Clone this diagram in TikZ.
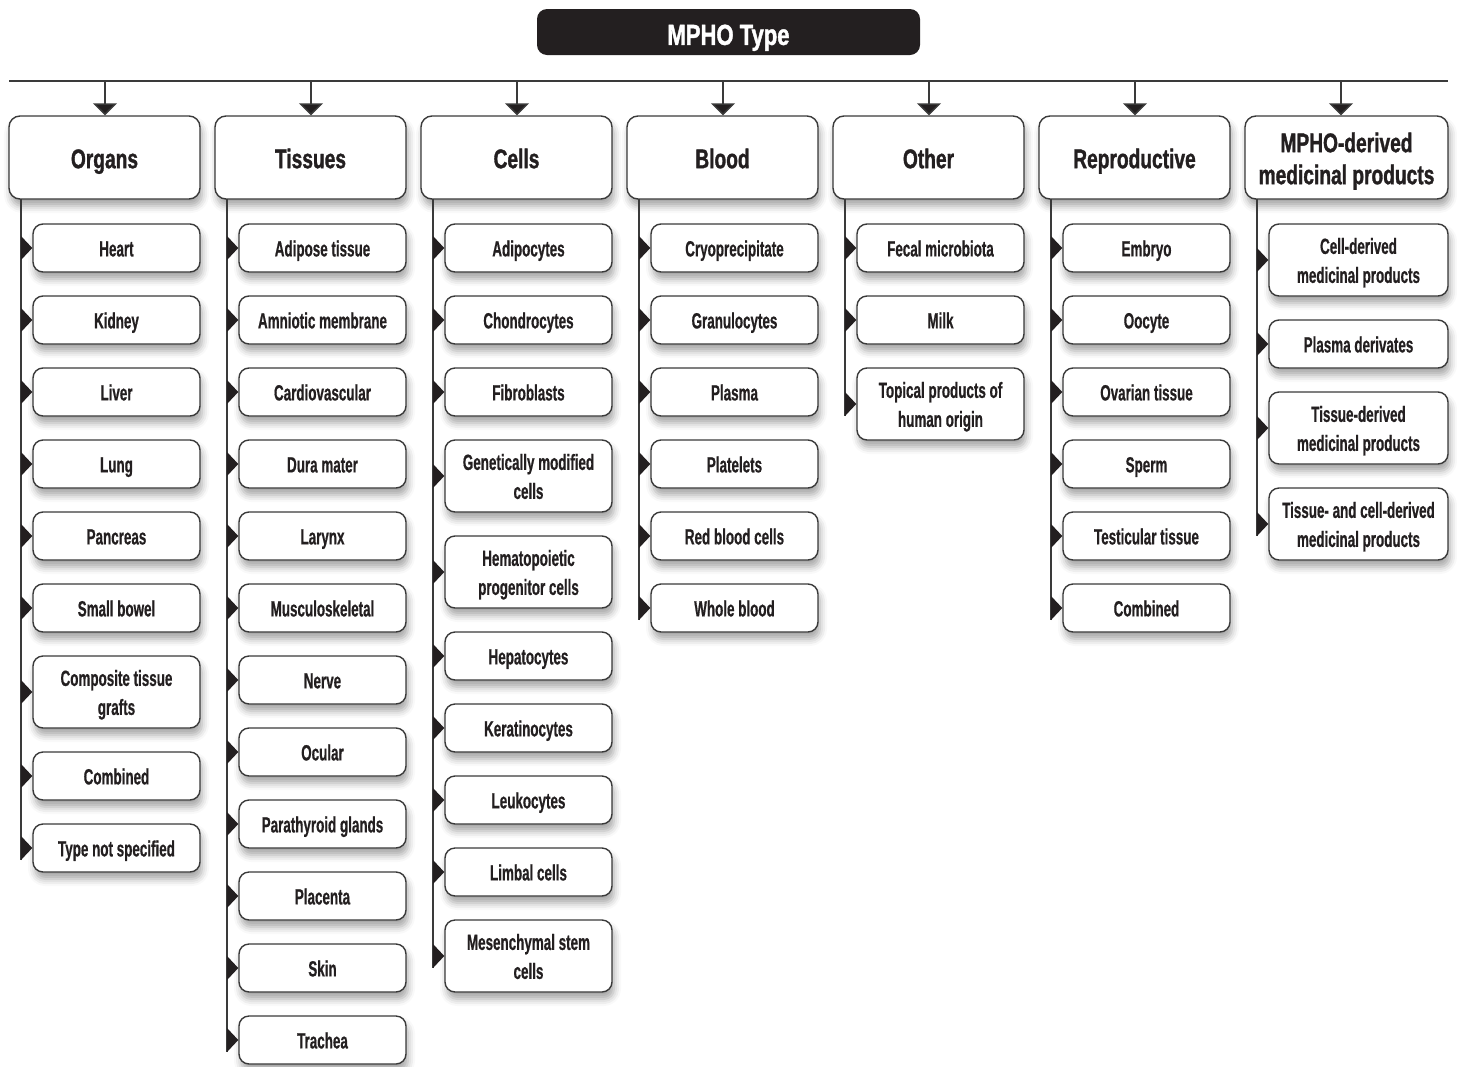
\documentclass[tikz,border=0pt]{standalone}
\usepackage{fontspec}
\setmainfont{Liberation Sans}
\newfontfamily\itemfont{Liberation Sans}[FakeStretch=0.61,FakeBold=0.6]
\newfontfamily\headfont{Liberation Sans}[FakeStretch=0.71,FakeBold=1.2]
\newfontfamily\titlefont{Liberation Sans}[FakeStretch=0.76,FakeBold=1.4]
\usetikzlibrary{arrows.meta,shadows.blur,calc}
\definecolor{ink}{HTML}{231F20}
\definecolor{edge}{HTML}{3A3A3A}
\tikzset{
  shade/.style={blur shadow={shadow xshift=2pt, shadow yshift=-7pt, shadow blur radius=7pt, shadow opacity=35}},
  itembox/.style={draw=edge, line width=1.4pt, fill=white, rounded corners=10pt, inner sep=0pt,
    minimum width=167pt, align=center, text=ink, shade,
    text height=17pt, text depth=0.2pt,
    font=\itemfont\bfseries\fontsize{22}{29}\selectfont},
  two/.style={text height=46pt},
  lastbox/.style={itembox, minimum width=179pt},
  headbox/.style={draw=edge, line width=1.4pt, fill=white, rounded corners=11pt, inner sep=0pt,
    minimum width=191pt, minimum height=83pt, align=center, text=ink, shade,
    text height=22pt, text depth=0.6pt,
    font=\headfont\bfseries\fontsize{27}{32}\selectfont},
  titlebox/.style={fill=ink, rounded corners=10pt, minimum width=383pt, minimum height=46pt,
    inner sep=0pt, text=white, text height=26pt, text depth=0.2pt,
    font=\titlefont\bfseries\fontsize{29}{32}\selectfont},
  mainline/.style={draw=edge, line width=1.5pt},
  vline/.style={draw=edge, line width=1.2pt},
  downarrow/.style={draw=edge, line width=1.5pt, -{Triangle[width=24pt,length=12pt,fill=ink]}},
  pointer/.style={fill=ink},
}
\newcommand\ptr[2]{\fill[pointer] ($(#1.west -| #2)+(0,-12)$) -- (#1.west) -- ($(#1.west -| #2)+(0,12)$) -- cycle;}
\begin{document}
\begin{tikzpicture}[x=1pt,y=-1pt]
\useasboundingbox (0,0) rectangle (1457,1066);
\node[titlebox] (title) at (728.5,32) {MPHO Type};
\coordinate (L) at (9,81);
\coordinate (R) at (1448,81);
\draw[mainline] (L) -- (R);
% headers
\node[headbox] (h0) at (104.5,157.5) {Organs};
\node[headbox] (h1) at (310.5,157.5) {Tissues};
\node[headbox] (h2) at (516.5,157.5) {Cells};
\node[headbox] (h3) at (722.5,157.5) {Blood};
\node[headbox] (h4) at (928.5,157.5) {Other};
\node[headbox] (h5) at (1134.5,157.5) {Reproductive};
\node[headbox, minimum width=203pt, text height=54pt] (h6) at (1346.5,157.5) {MPHO-derived\\medicinal products};
% arrows from main line
\foreach \i/\x in {0/105,1/311,2/517,3/723,4/929,5/1135,6/1341}{
  \coordinate (t\i) at (\x,81);
  \draw[downarrow] (t\i) -- (t\i |- h\i.north);
}
% vertical lines
\foreach \i/\x/\e in {0/21/860,1/227/1052,2/433/968,3/639/620,4/845/416,5/1051/620,6/1257/536}{
  \coordinate (v\i) at (\x,199);
  \coordinate (e\i) at (\x,\e);
  \draw[vline] (v\i) -- (e\i);
}
% Organs
\foreach \y/\h/\s/\t [count=\k] in {248/48//Heart,320/48//Kidney,392/48//Liver,464/48//Lung,536/48//Pancreas,608/48//Small bowel,692/72/two/{Composite tissue\\grafts},776/48//Combined,848/48//Type not specified}{
  \node[itembox, \s, minimum height=\h pt] (a\k) at (116.5,\y) {\t};
  \ptr{a\k}{v0}
}
% Tissues
\foreach \y/\h/\s/\t [count=\k] in {248/48//Adipose tissue,320/48//Amniotic membrane,392/48//Cardiovascular,464/48//Dura mater,536/48//Larynx,608/48//Musculoskeletal,680/48//Nerve,752/48//Ocular,824/48//Parathyroid glands,896/48//Placenta,968/48//Skin,1040/48//Trachea}{
  \node[itembox, \s, minimum height=\h pt] (b\k) at (322.5,\y) {\t};
  \ptr{b\k}{v1}
}
% Cells
\foreach \y/\h/\s/\t [count=\k] in {248/48//Adipocytes,320/48//Chondrocytes,392/48//Fibroblasts,476/72/two/{Genetically modified\\cells},572/72/two/{Hematopoietic\\progenitor cells},656/48//Hepatocytes,728/48//Keratinocytes,800/48//Leukocytes,872/48//Limbal cells,956/72/two/{Mesenchymal stem\\cells}}{
  \node[itembox, \s, minimum height=\h pt] (c\k) at (528.5,\y) {\t};
  \ptr{c\k}{v2}
}
% Blood
\foreach \y/\h/\s/\t [count=\k] in {248/48//Cryoprecipitate,320/48//Granulocytes,392/48//Plasma,464/48//Platelets,536/48//Red blood cells,608/48//Whole blood}{
  \node[itembox, \s, minimum height=\h pt] (d\k) at (734.5,\y) {\t};
  \ptr{d\k}{v3}
}
% Other
\foreach \y/\h/\s/\t [count=\k] in {248/48//Fecal microbiota,320/48//Milk,404/72/two/{Topical products of\\human origin}}{
  \node[itembox, \s, minimum height=\h pt] (f\k) at (940.5,\y) {\t};
  \ptr{f\k}{v4}
}
% Reproductive
\foreach \y/\h/\s/\t [count=\k] in {248/48//Embryo,320/48//Oocyte,392/48//Ovarian tissue,464/48//Sperm,536/48//Testicular tissue,608/48//Combined}{
  \node[itembox, \s, minimum height=\h pt] (g\k) at (1146.5,\y) {\t};
  \ptr{g\k}{v5}
}
% MPHO-derived
\foreach \y/\h/\s/\t [count=\k] in {260/72/two/{Cell-derived\\medicinal products},344/48//Plasma derivates,428/72/two/{Tissue-derived\\medicinal products},524/72/two/{Tissue- and cell-derived\\medicinal products}}{
  \node[lastbox, \s, minimum height=\h pt] (m\k) at (1358.5,\y) {\t};
  \ptr{m\k}{v6}
}
\end{tikzpicture}
\end{document}
